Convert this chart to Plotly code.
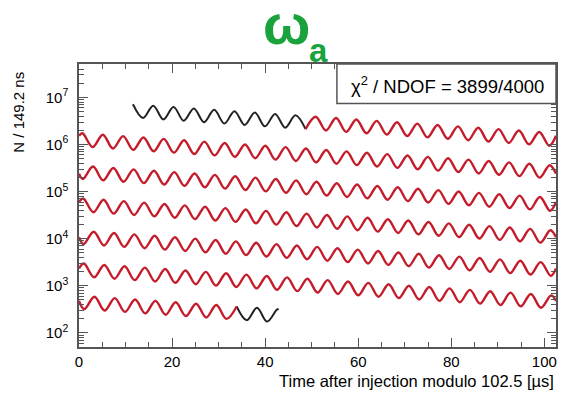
import numpy as np
import plotly.graph_objects as go

# ---- data: wiggle extrema (time within 102.5 us window, log10 N per 149.2 ns) ----
row0_t = [11.59, 13.77, 15.95, 18.13, 20.32, 22.50, 24.68, 26.86, 29.05, 31.23, 33.41, 35.59, 37.78, 39.96,
          42.14, 44.32, 46.51, 48.69, 50.87, 53.05, 55.24, 57.42, 59.60, 61.78, 63.97, 66.15, 68.33, 70.51,
          72.70, 74.88, 77.06, 79.24, 81.43, 83.61, 85.79, 87.97, 90.16, 92.34, 94.52, 96.70, 98.89, 101.07, 102.5]
row0_logN = [6.856, 6.563, 6.826, 6.533, 6.797, 6.504, 6.767, 6.474, 6.738, 6.445, 6.709, 6.416, 6.679, 6.386,
             6.650, 6.357, 6.620, 6.327, 6.591, 6.298, 6.562, 6.269, 6.532, 6.239, 6.503, 6.210, 6.473, 6.180,
             6.444, 6.151, 6.415, 6.122, 6.385, 6.092, 6.356, 6.063, 6.326, 6.033, 6.297, 6.004, 6.267, 5.975, 6.185]

row1_t = [0, 0.75, 2.93, 5.12, 7.30, 9.48, 11.66, 13.85, 16.03, 18.21, 20.39, 22.58, 24.76, 26.94, 29.12,
          31.31, 33.49, 35.67, 37.85, 40.04, 42.22, 44.40, 46.58, 48.77, 50.95, 53.13, 55.31, 57.50, 59.68,
          61.86, 64.04, 66.23, 68.41, 70.59, 72.77, 74.96, 77.14, 79.32, 81.50, 83.69, 85.87, 88.05, 90.23,
          92.42, 94.60, 96.78, 98.96, 101.15, 102.5]
row1_logN = [6.185, 6.238, 5.945, 6.208, 5.916, 6.179, 5.886, 6.150, 5.857, 6.120, 5.827, 6.091, 5.798, 6.061,
             5.769, 6.032, 5.739, 6.002, 5.710, 5.973, 5.680, 5.944, 5.651, 5.914, 5.622, 5.885, 5.592, 5.855,
             5.563, 5.826, 5.533, 5.797, 5.504, 5.767, 5.475, 5.738, 5.445, 5.708, 5.416, 5.679, 5.386, 5.650,
             5.357, 5.620, 5.328, 5.591, 5.298, 5.561, 5.382]

row2_t = [0, 0.83, 3.01, 5.19, 7.38, 9.56, 11.74, 13.92, 16.11, 18.29, 20.47, 22.65, 24.84, 27.02, 29.20,
          31.38, 33.57, 35.75, 37.93, 40.11, 42.30, 44.48, 46.66, 48.84, 51.03, 53.21, 55.39, 57.57, 59.76,
          61.94, 64.12, 66.30, 68.49, 70.67, 72.85, 75.03, 77.22, 79.40, 81.58, 83.76, 85.95, 88.13, 90.31,
          92.49, 94.68, 96.86, 99.04, 101.22, 102.5]
row2_logN = [5.382, 5.269, 5.532, 5.239, 5.502, 5.210, 5.473, 5.180, 5.444, 5.151, 5.414, 5.122, 5.385, 5.092,
             5.355, 5.063, 5.326, 5.033, 5.297, 5.004, 5.267, 4.975, 5.238, 4.945, 5.208, 4.916, 5.179, 4.886,
             5.150, 4.857, 5.120, 4.827, 5.091, 4.798, 5.061, 4.769, 5.032, 4.739, 5.003, 4.710, 4.973, 4.680,
             4.944, 4.651, 4.914, 4.622, 4.885, 4.592, 4.779]

row3_t = [0, 0.91, 3.09, 5.27, 7.45, 9.64, 11.82, 14.00, 16.18, 18.37, 20.55, 22.73, 24.91, 27.10, 29.28,
          31.46, 33.64, 35.83, 38.01, 40.19, 42.37, 44.56, 46.74, 48.92, 51.10, 53.29, 55.47, 57.65, 59.83,
          62.02, 64.20, 66.38, 68.56, 70.75, 72.93, 75.11, 77.29, 79.48, 81.66, 83.84, 86.02, 88.21, 90.39,
          92.57, 94.75, 96.94, 99.12, 101.30, 102.5]
row3_logN = [4.779, 4.855, 4.563, 4.826, 4.533, 4.797, 4.504, 4.767, 4.474, 4.738, 4.445, 4.708, 4.416, 4.679,
             4.386, 4.649, 4.357, 4.620, 4.327, 4.591, 4.298, 4.561, 4.269, 4.532, 4.239, 4.502, 4.210, 4.473,
             4.180, 4.444, 4.151, 4.414, 4.122, 4.385, 4.092, 4.355, 4.063, 4.326, 4.033, 4.297, 4.004, 4.267,
             3.974, 4.238, 3.945, 4.208, 3.916, 4.179, 4.032]

row4_t = [0, 0.98, 3.17, 5.35, 7.53, 9.71, 11.90, 14.08, 16.26, 18.44, 20.63, 22.81, 24.99, 27.17, 29.36,
          31.54, 33.72, 35.90, 38.09, 40.27, 42.45, 44.63, 46.82, 49.00, 51.18, 53.36, 55.55, 57.73, 59.91,
          62.09, 64.28, 66.46, 68.64, 70.82, 73.01, 75.19, 77.37, 79.55, 81.74, 83.92, 86.10, 88.28, 90.47,
          92.65, 94.83, 97.01, 99.20, 101.38, 102.5]
row4_logN = [4.032, 3.886, 4.149, 3.857, 4.120, 3.827, 4.091, 3.798, 4.061, 3.768, 4.032, 3.739, 4.002, 3.710,
             3.973, 3.680, 3.944, 3.651, 3.914, 3.621, 3.885, 3.592, 3.855, 3.563, 3.826, 3.533, 3.797, 3.504,
             3.767, 3.474, 3.738, 3.445, 3.708, 3.416, 3.679, 3.386, 3.649, 3.357, 3.620, 3.327, 3.591, 3.298,
             3.561, 3.269, 3.532, 3.239, 3.502, 3.210, 3.369]

row5_t = [0, 1.06, 3.24, 5.43, 7.61, 9.79, 11.97, 14.16, 16.34, 18.52, 20.70, 22.89, 25.07, 27.25, 29.43,
          31.62, 33.80, 35.98, 38.16, 40.35, 42.53, 44.71, 46.89, 49.08, 51.26, 53.44, 55.62, 57.81, 59.99,
          62.17, 64.35, 66.54, 68.72, 70.90, 73.08, 75.27, 77.45, 79.63, 81.81, 84.00, 86.18, 88.36, 90.54,
          92.73, 94.91, 97.09, 99.27, 101.46, 102.5]
row5_logN = [3.369, 3.473, 3.180, 3.443, 3.151, 3.414, 3.121, 3.385, 3.092, 3.355, 3.063, 3.326, 3.033, 3.296,
             3.004, 3.267, 2.974, 3.238, 2.945, 3.208, 2.916, 3.179, 2.886, 3.149, 2.857, 3.120, 2.827, 3.091,
             2.798, 3.061, 2.768, 3.032, 2.739, 3.002, 2.710, 2.973, 2.680, 2.944, 2.651, 2.914, 2.621, 2.885,
             2.592, 2.855, 2.563, 2.826, 2.533, 2.796, 2.681]

row6_t = [0, 1.14, 3.32, 5.50, 7.69, 9.87, 12.05, 14.23, 16.42, 18.60, 20.78, 22.96, 25.15, 27.33, 29.51,
          31.69, 33.88, 36.06, 38.24, 40.42, 42.61, 42.9]
row6_logN = [2.681, 2.504, 2.767, 2.474, 2.738, 2.445, 2.708, 2.415, 2.679, 2.386, 2.649, 2.357, 2.620, 2.327,
             2.591, 2.298, 2.561, 2.268, 2.532, 2.239, 2.502, 2.490]

FIT_START_ROW0 = 48.69   # data before this time in the first row is not fitted (black)
FIT_END_ROW6 = 33.88     # data after this time in the last row is not fitted (black)

x_ticks = [0, 20, 40, 60, 80, 100]
y_tick_vals = [1e2, 1e3, 1e4, 1e5, 1e6, 1e7]
y_tick_text = ["10<sup>2</sup>", "10<sup>3</sup>", "10<sup>4</sup>", "10<sup>5</sup>",
               "10<sup>6</sup>", "10<sup>7</sup>"]

TITLE_MAIN = "ω"
TITLE_SUB = "a"
CHI2_TEXT = "χ<sup>2</sup> / NDOF = 3899/4000"
X_TITLE = "Time after injection modulo 102.5 [µs]"
Y_TITLE = "N / 149.2 ns"

# ---- figure ----
RED = "#c41c2a"
BLACK = "#222222"
GREEN = "#1aa33d"
AXC = "#555555"
FONT = "Liberation Sans, Arial, sans-serif"

rows_t = [row0_t, row1_t, row2_t, row3_t, row4_t, row5_t, row6_t]
rows_v = [row0_logN, row1_logN, row2_logN, row3_logN, row4_logN, row5_logN, row6_logN]

fig = go.Figure()


def add_line(t, v, color, width):
    fig.add_trace(go.Scatter(x=t, y=10 ** np.asarray(v), mode="lines",
                             line=dict(color=color, width=width, shape="spline", smoothing=1.0),
                             hoverinfo="skip", showlegend=False))


for k, (t, v) in enumerate(zip(rows_t, rows_v)):
    t = np.asarray(t)
    v = np.asarray(v)
    if k == 0:
        m = t <= FIT_START_ROW0
        add_line(t[m], v[m], BLACK, 2.0)
        m2 = t >= FIT_START_ROW0
        add_line(t[m2], v[m2], RED, 2.4)
    elif k == len(rows_t) - 1:
        m = t >= FIT_END_ROW6
        add_line(t[m], v[m], BLACK, 2.0)
        m2 = t <= FIT_END_ROW6
        add_line(t[m2], v[m2], RED, 2.4)
    else:
        add_line(t, v, RED, 2.4)

minor_y = [m * 10 ** d for d in range(1, 8) for m in range(2, 10)]

L, R, T, B = 79, 558, 63.5, 347
W, H = 562, 393


def px(x):
    return (x - L) / (R - L)


def py(y):
    return (B - y) / (B - T)


fig.update_layout(
    width=W, height=H, autosize=False,
    margin=dict(l=L, r=W - R, t=T, b=H - B),
    paper_bgcolor="white", plot_bgcolor="white",
    font=dict(family=FONT, size=15, color="black"),
    xaxis=dict(range=[0, 102.5], tickvals=x_ticks, ticks="inside", ticklen=9, tickwidth=1,
               tickcolor=AXC, showline=True, linecolor=AXC, linewidth=1.5, mirror="ticks",
               showgrid=False, zeroline=False, tickfont=dict(size=15, family=FONT),
               minor=dict(dtick=5, ticks="inside", ticklen=5, tickcolor=AXC, showgrid=False)),
    yaxis=dict(type="log", range=[1.70, 7.71], tickvals=y_tick_vals, ticktext=y_tick_text,
               ticks="inside", ticklen=9, tickwidth=1, tickcolor=AXC, showline=True, linecolor=AXC,
               linewidth=1.5, mirror="ticks", showgrid=False, zeroline=False,
               tickfont=dict(size=15, family=FONT), ticklabelstandoff=6,
               minor=dict(tickvals=minor_y, ticks="inside", ticklen=5, tickcolor=AXC, showgrid=False)),
)

fig.add_shape(type="rect", xref="paper", yref="paper", x0=px(338), x1=1, y0=py(103), y1=1,
              line=dict(color=AXC, width=1.5), fillcolor="white", layer="above")

fig.add_annotation(xref="paper", yref="paper", x=px(449), y=py(85), text=CHI2_TEXT, showarrow=False,
                   xanchor="center", yanchor="middle", font=dict(size=18.5, family=FONT, color="black"))

fig.add_annotation(xref="paper", yref="paper", x=px(287), y=py(24), text="<b>" + TITLE_MAIN + "</b>",
                   showarrow=False, xanchor="center", yanchor="middle",
                   font=dict(size=56, family=FONT, color=GREEN))
fig.add_annotation(xref="paper", yref="paper", x=px(320), y=py(50), text="<b>" + TITLE_SUB + "</b>",
                   showarrow=False, xanchor="center", yanchor="middle",
                   font=dict(size=33, family=FONT, color=GREEN))

fig.add_annotation(xref="paper", yref="paper", x=1, y=py(381), text=X_TITLE, showarrow=False,
                   xanchor="right", yanchor="middle", font=dict(size=16.5, family=FONT, color="black"))
fig.add_annotation(xref="paper", yref="paper", x=px(18), y=py(112), text=Y_TITLE, showarrow=False,
                   textangle=-90, xanchor="center", yanchor="middle",
                   font=dict(size=15, family=FONT, color="black"))

fig.write_html("out.html")
